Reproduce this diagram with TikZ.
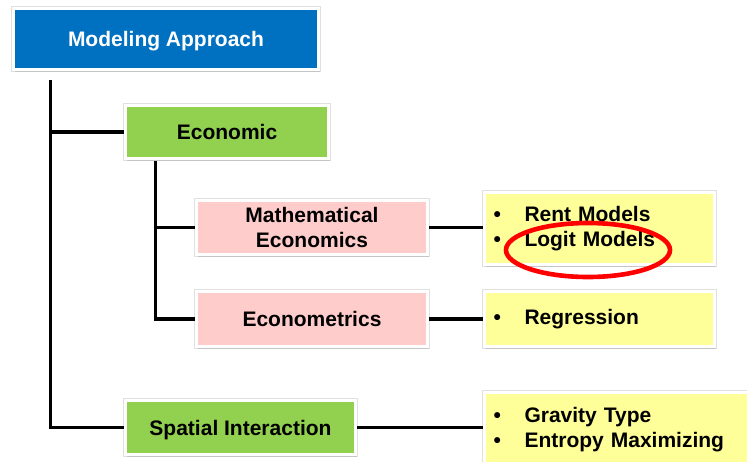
\documentclass[tikz,border=0pt]{standalone}
\usepackage{fontspec}
\setmainfont{Liberation Sans}
\usetikzlibrary{positioning, shadows, shapes.geometric}

\definecolor{headblue}{HTML}{0070C0}
\definecolor{leafgreen}{HTML}{92D050}
\definecolor{subpink}{HTML}{FFCCCC}
\definecolor{noteyellow}{HTML}{FFFF99}

\newcommand{\bitem}{\makebox[31pt][l]{\textbullet}}

\begin{document}
\begin{tikzpicture}[
    x=1pt, y=-1pt,
    every node/.style={font=\fontsize{21}{25}\selectfont\bfseries},
    box/.style={rectangle, draw=white, line width=3pt, inner sep=0pt, align=center,
        preaction={draw=black!12, line width=4.6pt},
        drop shadow={shadow xshift=1.8pt, shadow yshift=-2.6pt, opacity=0.28}},
    head/.style={box, fill=headblue, text=white, text depth=0pt},
    green/.style={box, fill=leafgreen, text depth=0pt},
    pink/.style={box, fill=subpink, text depth=0pt},
    note/.style={box, fill=noteyellow, align=left, text width=#1, inner xsep=9pt},
    link/.style={line width=3.5pt}
]
\clip (0,0) rectangle (747,461);

\node (modeling) [head, minimum width=305, minimum height=61] at (166,39) {Modeling Approach};
\node (economic) [green, minimum width=203, minimum height=53] at (227,132) {Economic};
\node (matheco) [pink, minimum width=231, minimum height=54] at (312,227.5) {Mathematical\\Economics};
\node (econometrics) [pink, minimum width=231, minimum height=55] at (312,319) {Econometrics};
\node (spatial) [green, minimum width=230, minimum height=54] at (240.5,427.5) {Spatial Interaction};

\node (rent) [note=212pt, minimum height=72] at (599.5,228.5) {\bitem Rent Models\\\bitem Logit Models};
\node (regression) [note=212pt, minimum height=55] at (599.5,319) {\bitem Regression};
\node (gravity) [note=251pt, minimum height=76] at (619,430) {\bitem Gravity Type\\\bitem Entropy Maximizing};

\coordinate (trunk) at ([xshift=38.5pt, yshift=-9pt]modeling.south west);
\coordinate (branch) at ([xshift=31.5pt, yshift=-1pt]economic.south west);

\draw [link] (trunk) |- (economic.west);
\draw [link] (trunk) |- (spatial.west);
\draw [link] (branch) |- (matheco.west);
\draw [link] (branch) |- (econometrics.west);

\draw [link] (matheco.east) -- (matheco.east -| rent.west);
\draw [link] (econometrics) -- (regression);
\draw [link] (spatial.east) -- (spatial.east -| gravity.west);

\node (logitring) [ellipse, draw=red, line width=4.6pt, minimum width=164, minimum height=54] at (588,250) {};
\end{tikzpicture}
\end{document}
